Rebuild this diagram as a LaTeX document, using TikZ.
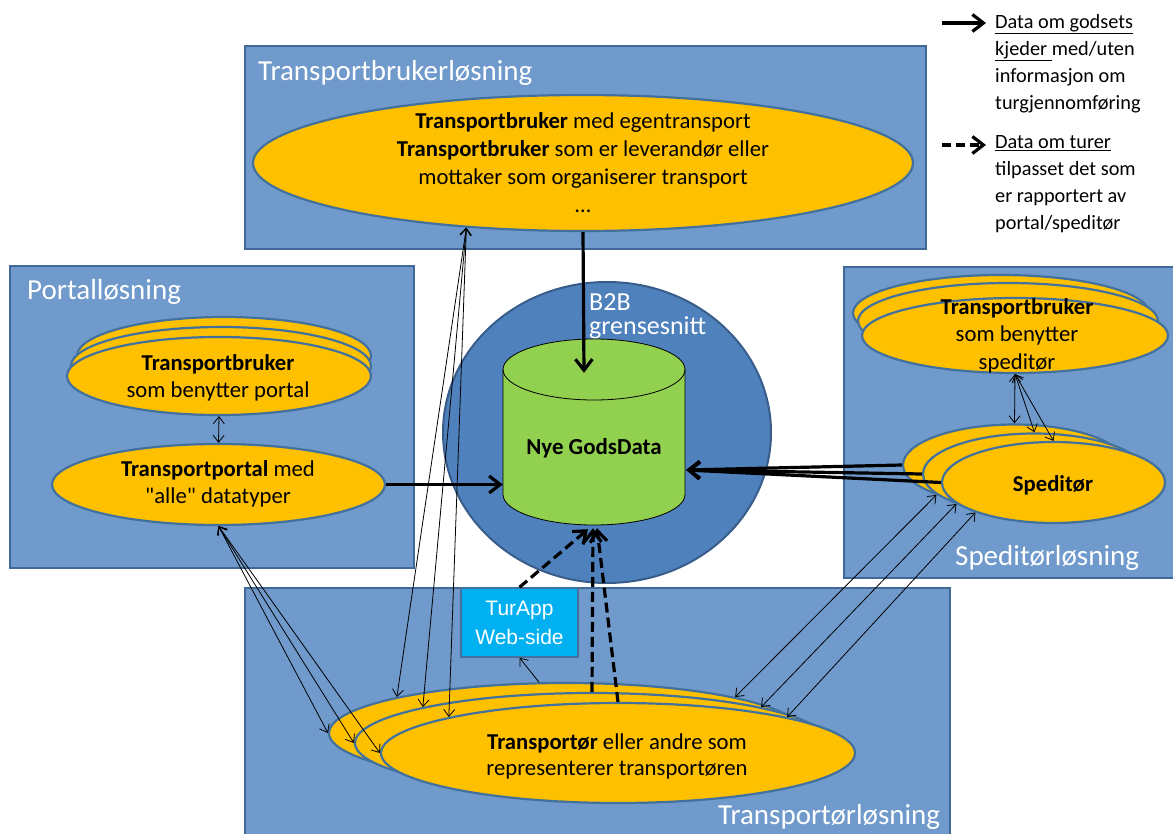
\documentclass[tikz,border=0pt]{standalone}
\usepackage{fontspec}
\setmainfont{Carlito}
\newfontfamily\arialfont{Liberation Sans}
\newfontfamily\straightquotes{Carlito}[Ligatures=TeXOff]
\usetikzlibrary{arrows.meta,shapes.geometric}

\definecolor{panelfill}{RGB}{111,154,203}
\definecolor{panelline}{RGB}{65,104,150}
\definecolor{hubfill}{RGB}{79,129,189}
\definecolor{hubline}{RGB}{56,93,138}
\definecolor{actorfill}{RGB}{255,192,0}
\definecolor{actorline}{RGB}{65,113,156}
\definecolor{dbfill}{RGB}{146,208,80}
\definecolor{appfill}{RGB}{0,176,240}

\tikzset{
  panel/.style={fill=panelfill, draw=panelline, line width=2.5pt},
  paneltitle/.style={text=white, inner sep=0pt, font=\fontsize{29}{34}\selectfont},
  actor/.style={ellipse, fill=actorfill, draw=actorline, line width=2.2pt, inner sep=0pt},
  actortext/.style={align=center, inner sep=0pt},
  body/.style={font=\fontsize{22.7}{#1}\selectfont},
  body/.default=27,
  legendtext/.style={align=left, inner sep=0pt, anchor=north west, font=\fontsize{20.3}{27}\selectfont},
  link/.style={line width=0.8pt, >={Straight Barb[length=7pt,width=11pt]}, <->},
  onelink/.style={line width=0.8pt, >={Straight Barb[length=7pt,width=11pt]}, ->},
  flow/.style={line width=3.2pt, >={Straight Barb[length=11pt,width=17pt]}, ->},
  tripflow/.style={flow, dash pattern=on 10pt off 5pt}
}

\begin{document}
\begin{tikzpicture}[x=1pt,y=-1pt]
\useasboundingbox (0,0) rectangle (1173,834);

% solution panels
\draw[panel] (245,46) rectangle (926,249);
\draw[panel] (10,266) rectangle (414,568);
\draw[panel] (844,267) rectangle (1190,578);
\draw[panel] (245,588) rectangle (950,850);

\node[paneltitle, anchor=west] (t-tb) at (258,73) {Transportbrukerløsning};
\node[paneltitle, anchor=west] (t-portal) at (27,292) {Portalløsning};
\node[paneltitle, anchor=west] (t-sped) at (955,558) {Speditørløsning};
\node[paneltitle, anchor=west] (t-tr) at (718,817) {Transportørløsning};

% B2B interface and the database
\node[ellipse, fill=hubfill, draw=hubline, line width=2pt, minimum width=328pt, minimum height=301pt, inner sep=0pt] (b2b) at (607,432.5) {};
\node[anchor=west, text=white, align=left, inner sep=0pt, font=\fontsize{26}{24}\selectfont] (b2btext) at (589,316) {B2B\\grensesnitt};

\filldraw[fill=dbfill, draw=black, line width=0.8pt]
  (503,369.5) -- (503,494.5)
  arc[start angle=180, end angle=360, x radius=91pt, y radius=30.5pt]
  -- (685,369.5)
  arc[start angle=0, end angle=180, x radius=91pt, y radius=30.5pt] -- cycle;
\draw[line width=0.8pt] (503,369.5)
  arc[start angle=180, end angle=360, x radius=91pt, y radius=30.5pt];
\node[minimum width=182pt, minimum height=186pt, inner sep=0pt] (db) at (594,432) {};
\node[inner sep=0pt, font=\fontsize{22.9}{26}\selectfont\bfseries] (dbtext) at (594,448) {Nye GodsData};

% transport users with own solution
\node[actor, minimum width=660pt, minimum height=136pt] (tb) at (583,163) {};
\node[actortext, body=28] (tbtext) at (tb.center)
  {\textbf{Transportbruker} med egentransport\\
   \textbf{Transportbruker} som er leverandør eller\\
   mottaker som organiserer transport\\ \dots};

% portal solution
\node[actor, minimum width=294pt, minimum height=78pt] (pu3) at (224,356) {};
\node[actor, minimum width=300pt, minimum height=78pt] (pu2) at (221,366) {};
\node[actor, minimum width=304pt, minimum height=78pt] (pu) at (219,376) {};
\node[actortext, body] (putext) at (218,378) {\textbf{Transportbruker}\\som benytter portal};
\node[actor, minimum width=333pt, minimum height=81pt] (portal) at (218.5,484.5) {};
\node[actortext, body] (portaltext) at (218,484) {\textbf{Transportportal} med\\{\straightquotes "alle"} datatyper};

% forwarder solution
\node[actor, minimum width=296pt, minimum height=76pt] (su3) at (1001,313) {};
\node[actor, minimum width=300pt, minimum height=76pt] (su2) at (1008,321) {};
\node[actor, minimum width=306pt, minimum height=75pt] (su) at (1015,335.5) {};
\node[actortext, body=27.5] (sutext) at (1017,335.5) {\textbf{Transportbruker}\\som benytter\\speditør};
\node[actor, minimum width=223pt, minimum height=81pt] (sp1) at (1014.5,465) {};
\node[actor, minimum width=223pt, minimum height=81pt] (sp2) at (1034.5,474) {};
\node[actor, minimum width=223pt, minimum height=81pt] (sp3) at (1053.5,482.5) {};
\node[actortext, body] (sptext) at (1053,485) {\textbf{Speditør}};

% carrier solution
\node[actor, minimum width=474pt, minimum height=100pt] (tr1) at (566,733) {};
\node[actor, minimum width=474pt, minimum height=100pt] (tr2) at (592,743) {};
\node[actor, minimum width=474pt, minimum height=100pt] (tr3) at (618,753) {};
\node[actortext, body=26] (trtext) at (617,756) {\textbf{Transportør} eller andre som\\representerer transportøren};

\node[draw=actorline, fill=appfill, line width=1.5pt, minimum width=117pt, minimum height=69pt, inner sep=0pt,
      text=white, align=center, font=\arialfont\fontsize{21}{29}\selectfont] (turapp) at (519.5,622.5) {TurApp\\Web-side};

% thin exchange links
\foreach \t in {tr1,tr2,tr3} {
  \draw[link] (portal.south) -- (\t.west);
  \draw[link] (tb.209.5) -- (\t.168);
}
\draw[link] (sp1.201) -- (tr1.12);
\draw[link] (sp2.201) -- (tr2.12);
\draw[link] (sp3.201) -- (tr3.12);
\draw[link] (su.south) -- (sp1.north);
\draw[link] (su.south) -- (sp2.north);
\draw[link] (su.south) -- (sp3.north);
\draw[link] (pu.south) -- (portal.north);
\draw[onelink] (tr1.118) -- (turapp.south);

% chain data into the database
\draw[flow] (tb.south) -- ([xshift=-10pt,yshift=-34pt]db.north);
\draw[flow] (portal.east) -- (portal.east -| db.west);
\draw[flow] (sp1.west) -- ([xshift=1pt,yshift=-38pt]db.east);
\draw[flow] (sp2.west) -- ([xshift=1pt,yshift=-38pt]db.east);
\draw[flow] (sp3.west) -- ([xshift=1pt,yshift=-38pt]db.east);

% trip data into the database
\draw[tripflow] (tr2.north) -- ([xshift=-1pt,yshift=-3pt]db.south);
\draw[tripflow] (tr3.north) -- ([xshift=3pt,yshift=-3pt]db.south);
\draw[tripflow] (turapp.north) -- ([xshift=-6pt,yshift=-4pt]db.south);

% legend
\coordinate (lg1s) at (942,23);
\coordinate (lg1e) at (986,23);
\coordinate (lg2s) at (942,145);
\coordinate (lg2e) at (986,145);
\draw[flow] (lg1s) -- (lg1e);
\draw[flow, dash pattern=on 9pt off 5pt] (lg2s) -- (lg2e);
\node[legendtext] (lg1text) at (995,14)
  {\underline{Data om godsets}\\\underline{kjeder }med/uten\\informasjon om\\turgjennomføring};
\node[legendtext] (lg2text) at (995,135)
  {\underline{Data om turer}\\tilpasset det som\\er rapportert av\\portal/speditør};
\end{tikzpicture}
\end{document}
